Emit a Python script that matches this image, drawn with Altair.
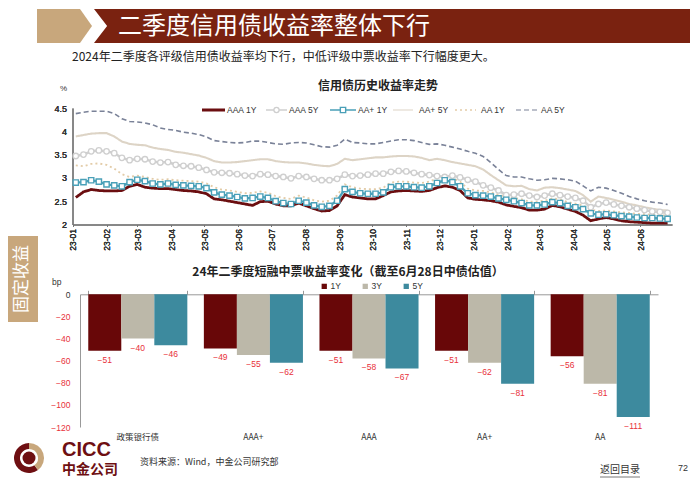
import altair as alt
import pandas as pd

# ---------------- data ----------------
dates = pd.date_range("2023-01-04", periods=78, freq="7D").strftime("%Y-%m-%d").tolist()

aaa_1y = [2.58, 2.70, 2.75, 2.73, 2.72, 2.72, 2.73, 2.82, 2.86, 2.80,
          2.78, 2.77, 2.77, 2.75, 2.73, 2.72, 2.70, 2.66, 2.55, 2.53,
          2.50, 2.47, 2.44, 2.41, 2.49, 2.50, 2.44, 2.40, 2.40, 2.46,
          2.40, 2.34, 2.29, 2.30, 2.40, 2.64, 2.59, 2.57, 2.55, 2.55,
          2.62, 2.70, 2.72, 2.73, 2.72, 2.71, 2.73, 2.79, 2.83, 2.80,
          2.73, 2.57, 2.54, 2.53, 2.51, 2.48, 2.42, 2.39, 2.36, 2.31,
          2.31, 2.33, 2.41, 2.38, 2.33, 2.28, 2.20, 2.08, 2.12, 2.15,
          2.12, 2.08, 2.06, 2.05, 2.04, 2.03, 2.03, 2.03]
aaa_5y = [3.47, 3.50, 3.57, 3.59, 3.57, 3.53, 3.43, 3.38, 3.41, 3.40,
          3.35, 3.33, 3.34, 3.28, 3.26, 3.25, 3.22, 3.17, 3.12, 3.11,
          3.10, 3.08, 3.05, 3.04, 3.08, 3.07, 3.04, 3.02, 2.99, 3.04,
          3.02, 2.98, 2.95, 2.95, 2.98, 3.07, 3.04, 3.05, 3.07, 3.09,
          3.09, 3.13, 3.15, 3.14, 3.11, 3.08, 3.06, 3.04, 3.02, 3.05,
          3.01, 2.96, 2.92, 2.84, 2.79, 2.73, 2.63, 2.64, 2.66, 2.62,
          2.59, 2.62, 2.66, 2.63, 2.60, 2.57, 2.51, 2.37, 2.44, 2.47,
          2.43, 2.40, 2.37, 2.34, 2.31, 2.28, 2.27, 2.25]
aap_1y = [2.90, 2.91, 2.95, 2.92, 2.86, 2.84, 2.82, 2.91, 2.96, 2.93,
          2.88, 2.86, 2.88, 2.85, 2.84, 2.83, 2.82, 2.78, 2.69, 2.64,
          2.62, 2.59, 2.56, 2.57, 2.60, 2.57, 2.50, 2.46, 2.44, 2.51,
          2.47, 2.41, 2.38, 2.40, 2.51, 2.76, 2.70, 2.67, 2.66, 2.66,
          2.69, 2.80, 2.82, 2.82, 2.80, 2.79, 2.82, 2.89, 2.95, 2.91,
          2.82, 2.67, 2.63, 2.62, 2.60, 2.56, 2.53, 2.50, 2.46, 2.41,
          2.41, 2.43, 2.48, 2.46, 2.40, 2.37, 2.33, 2.24, 2.21, 2.22,
          2.20, 2.18, 2.17, 2.15, 2.14, 2.14, 2.13, 2.12]
aap_5y = [3.89, 3.92, 3.95, 3.96, 3.96, 3.89, 3.78, 3.73, 3.71, 3.70,
          3.65, 3.62, 3.60, 3.56, 3.54, 3.51, 3.48, 3.43, 3.36, 3.33,
          3.33, 3.34, 3.36, 3.38, 3.40, 3.40, 3.36, 3.34, 3.33, 3.33,
          3.31, 3.28, 3.26, 3.25, 3.30, 3.41, 3.38, 3.40, 3.42, 3.44,
          3.44, 3.46, 3.47, 3.47, 3.46, 3.43, 3.38, 3.41, 3.38, 3.34,
          3.31, 3.28, 3.25, 3.18, 3.06, 2.95, 2.84, 2.82, 2.83, 2.76,
          2.73, 2.79, 2.80, 2.78, 2.75, 2.72, 2.63, 2.49, 2.60, 2.57,
          2.53, 2.49, 2.44, 2.41, 2.37, 2.34, 2.31, 2.30]
aa_1y = [3.27, 3.25, 3.30, 3.31, 3.28, 3.20, 3.08, 3.02, 3.05, 3.02,
         2.98, 2.96, 2.97, 2.95, 2.94, 2.93, 2.92, 2.88, 2.80, 2.75,
         2.73, 2.70, 2.67, 2.68, 2.71, 2.68, 2.61, 2.57, 2.55, 2.62,
         2.58, 2.52, 2.49, 2.51, 2.62, 2.86, 2.80, 2.77, 2.76, 2.76,
         2.79, 2.90, 2.92, 2.92, 2.90, 2.89, 2.92, 2.99, 3.04, 3.00,
         2.92, 2.77, 2.73, 2.72, 2.69, 2.64, 2.60, 2.57, 2.54, 2.49,
         2.49, 2.51, 2.56, 2.54, 2.48, 2.45, 2.41, 2.32, 2.29, 2.30,
         2.28, 2.26, 2.25, 2.23, 2.22, 2.21, 2.20, 2.19]
aa_5y = [4.38, 4.41, 4.43, 4.43, 4.43, 4.38, 4.27, 4.21, 4.20, 4.18,
         4.14, 4.07, 4.04, 4.02, 3.98, 3.96, 3.93, 3.88, 3.80, 3.78,
         3.76, 3.75, 3.76, 3.79, 3.79, 3.76, 3.73, 3.72, 3.75, 3.76,
         3.75, 3.71, 3.67, 3.66, 3.70, 3.83, 3.76, 3.75, 3.73, 3.73,
         3.76, 3.79, 3.82, 3.82, 3.80, 3.76, 3.72, 3.73, 3.70, 3.66,
         3.62, 3.57, 3.53, 3.46, 3.33, 3.18, 3.05, 3.02, 3.02, 2.98,
         2.95, 2.96, 2.99, 2.98, 2.96, 2.93, 2.83, 2.72, 2.80, 2.78,
         2.73, 2.67, 2.60, 2.55, 2.51, 2.48, 2.46, 2.43]

legend_order = ["AAA 1Y", "AAA 5Y", "AA+ 1Y", "AA+ 5Y", "AA 1Y", "AA 5Y"]
draw_order = ["AA 5Y", "AA+ 5Y", "AA 1Y", "AAA 5Y", "AA+ 1Y", "AAA 1Y"]
series_values = {"AAA 1Y": aaa_1y, "AAA 5Y": aaa_5y, "AA+ 1Y": aap_1y,
                 "AA+ 5Y": aap_5y, "AA 1Y": aa_1y, "AA 5Y": aa_5y}

categories = ["政策银行债", "AAA+", "AAA", "AA+", "AA"]
terms = ["1Y", "3Y", "5Y"]
chg_1y = [-51, -49, -51, -51, -56]
chg_3y = [-40, -55, -58, -62, -81]
chg_5y = [-46, -62, -67, -81, -111]

# ---------------- styles ----------------
CJK = "Noto Sans CJK SC"
LAT = "Liberation Sans"
DARK = "#7A2210"
TAN = "#C8A77C"
RED = "#E8313A"
line_color = {"AAA 1Y": "#6B0E10", "AAA 5Y": "#CFCFCF", "AA+ 1Y": "#4AA0B8",
              "AA+ 5Y": "#DDD4C6", "AA 1Y": "#E3CCA8", "AA 5Y": "#7A8298"}
line_dash = {"AAA 1Y": [1, 0], "AAA 5Y": [1, 0], "AA+ 1Y": [1, 0],
             "AA+ 5Y": [1, 0], "AA 1Y": [2, 3], "AA 5Y": [5, 3]}
line_width = {"AAA 1Y": 2.8, "AAA 5Y": 1.6, "AA+ 1Y": 1.5,
              "AA+ 5Y": 1.2, "AA 1Y": 1.5, "AA 5Y": 1.0}
bar_colors = ["#680708", "#BCB8A9", "#3D8A9E"]

# ---------------- tables ----------------
line_df = pd.DataFrame([{"date": d, "value": v, "series": s}
                        for s in draw_order for d, v in zip(dates, series_values[s])])
bar_rows = []
for i, c in enumerate(categories):
    for t, vals in zip(terms, [chg_1y, chg_3y, chg_5y]):
        bar_rows.append({"cat": c, "term": t, "chg": vals[i]})
bar_df = pd.DataFrame(bar_rows)
one = pd.DataFrame({"k": [0]})


def text_mark(s, x, y, size, color="#333333", weight="normal", align="left",
              font=CJK, angle=0):
    return alt.Chart(one).mark_text(text=s, fontSize=size, color=color, fontWeight=weight,
                                    align=align, baseline="middle", font=font,
                                    angle=angle).encode(x=alt.value(x), y=alt.value(y))


def rect_mark(x, x2, y, y2, color):
    return alt.Chart(one).mark_rect(color=color).encode(
        x=alt.value(x), x2=alt.value(x2), y=alt.value(y), y2=alt.value(y2))


def shape_mark(path, cx, cy, size, color):
    return alt.Chart(one).mark_point(shape=path, size=size, filled=True, color=color,
                                     opacity=1, strokeWidth=0).encode(
        x=alt.value(cx), y=alt.value(cy))


def arc_mark(cx, cy, r, r2, t1, t2, color):
    return alt.Chart(one).mark_arc(radius=r, radius2=r2, theta=t1, theta2=t2,
                                   color=color).encode(x=alt.value(cx), y=alt.value(cy))


layers = []

# header
layers.append(shape_mark("M-1,-0.618 L0.564,-0.618 L1,0 L0.564,0.618 L-1,0.618 Z",
                         56.5, 18, 3025, TAN))
layers.append(shape_mark("M-1,-0.057 L1,-0.057 L1,0.057 L-1,0.057 L-0.956,0 Z",
                         384, 18, 355216, DARK))
layers.append(text_mark("二季度信用债收益率整体下行", 110, 19, 24, color="white"))
layers.append(text_mark("2024年二季度各评级信用债收益率均下行，中低评级中票收益率下行幅度更大。",
                        64, 49, 12, color="#222222"))

# side tab
layers.append(rect_mark(0, 30, 228, 314, TAN))
layers.append(text_mark("固定收益", 14, 271, 17, color="white", align="center", angle=270))

# ---------------- line chart ----------------
month_ticks = [alt.DateTime(year=2023 + (m // 12), month=(m % 12) + 1, date=1, utc=True)
               for m in range(18)]
x_time = alt.X("date:T",
               scale=alt.Scale(type="utc",
                               domain=[alt.DateTime(year=2023, month=1, date=1, utc=True),
                                       alt.DateTime(year=2024, month=6, date=30, utc=True)],
                               range=[64.5, 664], nice=False),
               axis=alt.Axis(orient="bottom", offset=-257.5, values=month_ticks,
                             labelExpr="utcFormat(datum.value, '%y-%m')", labelAngle=270,
                             labelFontSize=8.5, labelColor="#333333", labelFont=LAT,
                             domainColor="#777777", tickColor="#777777", tickSize=2,
                             labelPadding=2, grid=False, title=None,
                             labelOverlap=False, labelFlush=False))
y_line = alt.Y("value:Q",
               scale=alt.Scale(domain=[2, 4.5], range=[216.5, 100], nice=False, zero=False),
               axis=alt.Axis(orient="left", offset=-64.5, values=[2, 2.5, 3, 3.5, 4, 4.5],
                             format="~g", labelFontSize=9, labelColor="#333333",
                             labelFont=LAT, domainColor="#777777", ticks=False,
                             labelPadding=6, grid=False, title=None, labelFlush=False))

lines = alt.Chart(line_df).mark_line().encode(
    x=x_time, y=y_line,
    color=alt.Color("series:N", scale=alt.Scale(domain=legend_order,
                                                range=[line_color[s] for s in legend_order]),
                    legend=None),
    strokeDash=alt.StrokeDash("series:N",
                              scale=alt.Scale(domain=legend_order,
                                              range=[line_dash[s] for s in legend_order]),
                              legend=None),
    strokeWidth=alt.StrokeWidth("series:N",
                                scale=alt.Scale(domain=legend_order,
                                                range=[line_width[s] for s in legend_order]),
                                legend=None),
    detail="series:N")
layers.append(lines)

circ = alt.Chart(line_df[line_df.series == "AAA 5Y"]).mark_point(
    shape="circle", filled=True, fill="white", stroke=line_color["AAA 5Y"],
    strokeWidth=1.3, size=30, opacity=1).encode(x=x_time, y=y_line)
sq = alt.Chart(line_df[line_df.series == "AA+ 1Y"]).mark_point(
    shape="square", filled=True, fill="white", stroke=line_color["AA+ 1Y"],
    strokeWidth=1.4, size=28, opacity=1).encode(x=x_time, y=y_line)
layers += [circ, sq]

layers.append(text_mark("信用债历史收益率走势", 370, 78, 12, color="#222222",
                        weight="bold", align="center"))
layers.append(text_mark("%", 52, 81, 8, color="#333333", font=LAT))

# manual legend for the line chart
leg_seg = [(194, 217), (258, 279), (322, 348), (385, 405), (447, 468), (508, 530)]
leg_txt = [219, 281, 350, 411, 473, 533]
LEG_Y = 102
for s, (a, b), tx in zip(legend_order, leg_seg, leg_txt):
    layers.append(alt.Chart(one).mark_rule(color=line_color[s],
                                           strokeWidth=max(line_width[s], 1.2) + (0.4 if s == "AAA 1Y" else 0),
                                           strokeDash=line_dash[s]).encode(
        x=alt.value(a), x2=alt.value(b), y=alt.value(LEG_Y)))
    if s == "AAA 5Y":
        layers.append(alt.Chart(one).mark_point(shape="circle", filled=True, fill="white",
                                                stroke=line_color[s], strokeWidth=1.3,
                                                size=26, opacity=1).encode(
            x=alt.value((a + b) / 2), y=alt.value(LEG_Y)))
    if s == "AA+ 1Y":
        layers.append(alt.Chart(one).mark_point(shape="square", filled=True, fill="white",
                                                stroke=line_color[s], strokeWidth=1.4,
                                                size=28, opacity=1).encode(
            x=alt.value((a + b) / 2), y=alt.value(LEG_Y)))
    layers.append(text_mark(s, tx, LEG_Y, 8.5, color="#333333", font=LAT))

# ---------------- bar chart ----------------
x_band_top = alt.X("cat:N", sort=categories,
                   scale=alt.Scale(domain=categories, range=[72, 650],
                                   paddingInner=0.143, paddingOuter=0.0715),
                   axis=alt.Axis(orient="top", offset=-286.3, labels=False, ticks=True,
                                 tickBand="extent", tickSize=4, tickColor="#999999",
                                 domainColor="#999999", grid=False, title=None))
x_band_bottom = alt.X("cat:N", sort=categories,
                      scale=alt.Scale(domain=categories, range=[72, 650],
                                      paddingInner=0.143, paddingOuter=0.0715),
                      axis=alt.Axis(orient="bottom", offset=-52, domain=False, ticks=False,
                                    labelPadding=2, labelFontSize=8.5, labelColor="#333333",
                                    labelFont=CJK, labelAngle=0, grid=False, title=None))
x_off = alt.XOffset("term:N", sort=terms,
                    scale=alt.Scale(type="band", domain=terms, paddingInner=0, paddingOuter=0))
y_bar_scale = alt.Scale(domain=[-120, 0], range=[419, 286.3], nice=False, zero=False)

bars = alt.Chart(bar_df).mark_bar().encode(
    x=x_band_top, xOffset=x_off,
    y=alt.Y("chg:Q", scale=y_bar_scale,
            axis=alt.Axis(orient="left", offset=-72,
                          values=[0, -20, -40, -60, -80, -100, -120],
                          labelFontSize=8.5, labelFont=LAT,
                          labelColor=alt.condition("datum.value < 0", alt.value(RED),
                                                   alt.value("#333333")),
                          domainColor="#999999", ticks=False, labelPadding=10,
                          grid=False, title=None, labelFlush=False)),
    color=alt.Color("term:N", sort=terms,
                    scale=alt.Scale(domain=terms, range=bar_colors),
                    legend=alt.Legend(orient="none", legendX=312, legendY=274,
                                      direction="horizontal", title=None,
                                      symbolType="square", symbolSize=28,
                                      symbolStrokeWidth=0, labelFontSize=8.5,
                                      labelFont=LAT, labelColor="#333333",
                                      columnPadding=20, labelOffset=2)))
labels = alt.Chart(bar_df).mark_text(dy=9, fontSize=8.5, color=RED, font=LAT,
                                     baseline="middle").encode(
    x=x_band_bottom, xOffset=x_off,
    y=alt.Y("chg:Q", scale=y_bar_scale, axis=None),
    text=alt.Text("chg:Q"))
layers += [bars, labels]

layers.append(text_mark("24年二季度短融中票收益率变化（截至6月28日中债估值）", 340, 264, 12,
                        color="#222222", weight="bold", align="center"))
layers.append(text_mark("bp", 44, 274, 8.5, color="#333333", font=LAT))

# ---------------- footer ----------------
layers.append(arc_mark(21, 450, 15, 9, 2.5, 6.2832, "#6E0F12"))
layers.append(arc_mark(21, 450, 15, 9, 0, 2.5, TAN))
layers.append(arc_mark(21, 450, 6.5, 0, 0, 6.2832, "#6E0F12"))
layers.append(text_mark("CICC", 54, 442, 20, color="#6E0F12", weight="bold", font=LAT))
layers.append(text_mark("中金公司", 54, 462, 14, color="#6E0F12", weight="bold"))
layers.append(text_mark("资料来源：Wind，中金公司研究部", 132, 454, 9, color="#333333"))
layers.append(text_mark("返回目录", 612, 462, 10, color="#333333", align="center"))
layers.append(alt.Chart(one).mark_rule(color="#555555", strokeWidth=0.8).encode(
    x=alt.value(592), x2=alt.value(632), y=alt.value(469)))
layers.append(text_mark("72", 670, 460, 9, color="#333333", font=LAT))

chart = alt.layer(*layers).resolve_scale(
    x="independent", y="independent", color="independent", xOffset="independent",
    strokeDash="independent", strokeWidth="independent"
).properties(
    width=684, height=474, autosize=alt.AutoSizeParams(type="none"), padding=0,
    background="white"
).configure_view(stroke=None)

chart.save("out.html", embed_options={"renderer": "svg", "actions": False})
